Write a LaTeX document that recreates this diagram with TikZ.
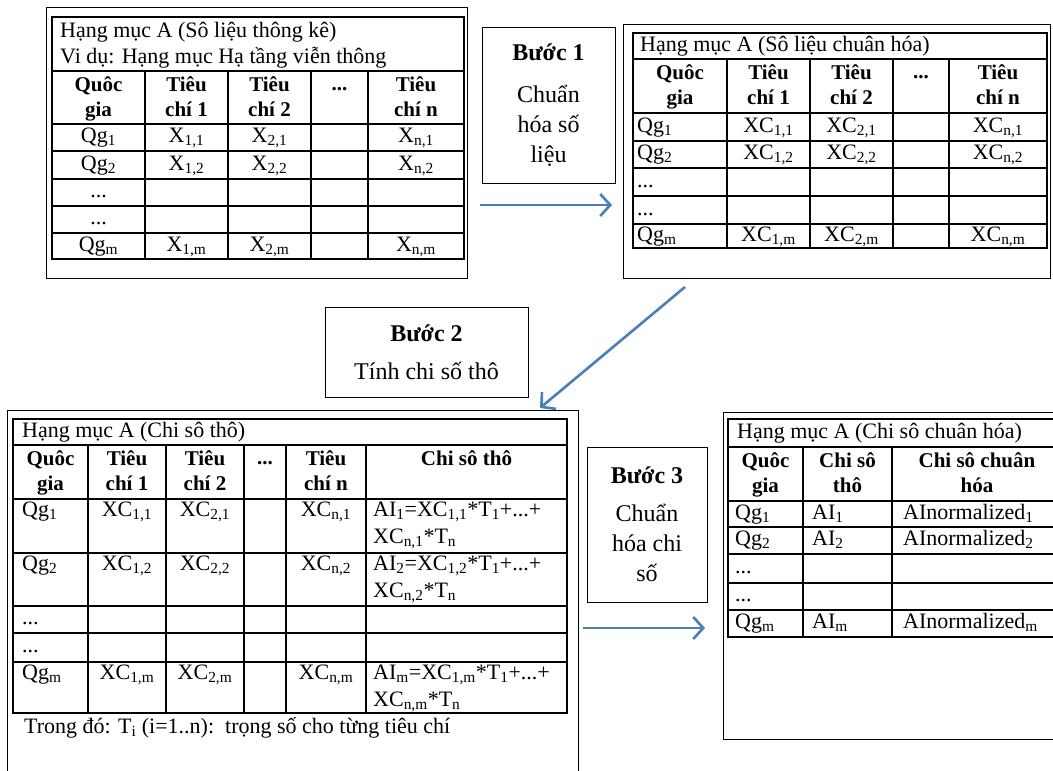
\documentclass[tikz,border=0pt]{standalone}
\usepackage{fontspec}
\setmainfont{Liberation Serif}
\usetikzlibrary{arrows.meta}
\definecolor{flowblue}{RGB}{74,126,187}
\newcommand{\ix}[1]{\textsubscript{#1}}
\newcommand{\threedots}{\vphantom{Q}...}

\begin{document}
\begin{tikzpicture}[
    x=1pt,y=-1pt,font=\fontsize{22}{26}\selectfont,
    frame/.style={line width=1pt},
    rule/.style={line width=1.6pt},
    title/.style={anchor=west,inner sep=0pt,text height=15pt,text depth=5pt},
    cell/.style={inner sep=0pt,text height=15pt,text depth=5pt},
    lcell/.style={cell,anchor=west},
    head/.style={anchor=north,align=center,inner sep=0pt,
        font=\fontsize{21}{25}\selectfont\bfseries},
    formula/.style={anchor=north west,align=left,inner sep=0pt,
        font=\fontsize{22}{27}\selectfont},
    stepbox/.style={draw,line width=1pt,align=center,inner sep=0pt,
        font=\fontsize{24}{30}\selectfont},
    flow/.style={draw=flowblue,line width=2.6pt,
        -{Straight Barb[length=10pt,width=22pt]}}
]
    \useasboundingbox (0,0) rectangle (1053,771);
    \clip (0,0) rectangle (1053,771);

    % Table A: raw statistics
    \draw[frame] (46,7) rectangle (467,278);
    \draw[rule] (52,17) rectangle (464,259);
    \foreach \y in {71,124,151,179,206,233} \draw[rule] (52,\y) -- (464,\y);
    \foreach \x in {145,228,311,368} \draw[rule] (\x,71) -- (\x,259);
    \node[title] (ta-title) at (60,32) {Hạng mục A (Sô liệu thông kê)};
    \node[title] (ta-example) at (60,58) {Vi dụ: Hạng mục Hạ tầng viễn thông};
    \foreach \x/\name/\txt in {98.5/q/Quôc\\gia,186.5/a/Tiêu\\chí 1,
        269.5/b/Tiêu\\chí 2,339.5/d/\threedots,416/n/Tiêu\\chí n}
        \node[head] (ta-h\name) at (\x,76) {\txt};
    \foreach \y/\r in {137.5/1,165/2,246/m} {
        \node[cell] (ta-q\r) at (98.5,\y) {Qg\ix{\r}};
        \node[cell] (ta-a\r) at (186.5,\y) {X\ix{1,\r}};
        \node[cell] (ta-b\r) at (269.5,\y) {X\ix{2,\r}};
        \node[cell] (ta-n\r) at (416,\y) {X\ix{n,\r}};
    }
    \node[cell] (ta-dots1) at (98.5,192.5) {...};
    \node[cell] (ta-dots2) at (98.5,219.5) {...};

    % Step 1
    \node[stepbox,minimum width=133pt,minimum height=156pt] (step1) at (548.5,105)
        {\textbf{Bước 1}\\[12pt]Chuẩn\\hóa số\\liệu};
    \coordinate (s1-from) at (480,205);
    \coordinate (s1-to) at (612,205);
    \draw[flow] (s1-from) -- (s1-to);

    % Table B: normalised data
    \draw[frame] (623,24) rectangle (1050,278);
    \draw[rule] (633,33) rectangle (1047,248);
    \foreach \y in {59,113,141,168,196,224} \draw[rule] (633,\y) -- (1047,\y);
    \foreach \x in {727,810,893,949} \draw[rule] (\x,59) -- (\x,248);
    \node[title] (tb-title) at (640,46) {Hạng mục A (Sô liệu chuân hóa)};
    \foreach \x/\name/\txt in {680/q/Quôc\\gia,768.5/a/Tiêu\\chí 1,
        851.5/b/Tiêu\\chí 2,921/d/\threedots,998/n/Tiêu\\chí n}
        \node[head] (tb-h\name) at (\x,64) {\txt};
    \foreach \y/\r in {127/1,154.5/2,236/m} {
        \node[lcell] (tb-q\r) at (637,\y) {Qg\ix{\r}};
        \node[cell] (tb-a\r) at (768.5,\y) {XC\ix{1,\r}};
        \node[cell] (tb-b\r) at (851.5,\y) {XC\ix{2,\r}};
        \node[cell] (tb-n\r) at (998,\y) {XC\ix{n,\r}};
    }
    \node[lcell] (tb-dots1) at (637,182) {...};
    \node[lcell] (tb-dots2) at (637,210) {...};

    % Step 2
    \node[stepbox,minimum width=203pt,minimum height=90pt] (step2) at (426.5,352)
        {\textbf{Bước 2}\\[8pt]Tính chi số thô};
    \coordinate (s2-from) at (685,287);
    \coordinate (s2-to) at (540,408);
    \draw[flow] (s2-from) -- (s2-to);

    % Table C: raw index
    \draw[frame] (7,410) rectangle (578,800);
    \draw[rule] (13,419) rectangle (567,713);
    \foreach \y in {445,499,553,606,633,662} \draw[rule] (13,\y) -- (567,\y);
    \foreach \x in {88,166,244,286,366} \draw[rule] (\x,445) -- (\x,713);
    \node[title] (tc-title) at (22,432) {Hạng mục A (Chi sô thô)};
    \foreach \x/\name/\txt in {50.5/q/Quôc\\gia,127/a/Tiêu\\chí 1,
        205/b/Tiêu\\chí 2,265/d/\threedots,326/n/Tiêu\\chí n,466.5/i/Chi sô thô}
        \node[head] (tc-h\name) at (\x,450) {\txt};
    \foreach \y/\r in {501/1,555/2,664/m} {
        \node[cell,anchor=north west] (tc-q\r) at (22,\y) {Qg\ix{\r}};
        \node[cell,anchor=north] (tc-a\r) at (127,\y) {XC\ix{1,\r}};
        \node[cell,anchor=north] (tc-b\r) at (205,\y) {XC\ix{2,\r}};
        \node[cell,anchor=north] (tc-n\r) at (326,\y) {XC\ix{n,\r}};
        \node[formula] (tc-i\r) at (373,\y+1)
            {AI\ix{\r}=XC\ix{1,\r}*T\ix{1}+...+\\XC\ix{n,\r}*T\ix{n}};
    }
    \node[lcell] (tc-dots1) at (22,619.5) {...};
    \node[lcell] (tc-dots2) at (22,647.5) {...};
    \node[title] (tc-note) at (24,728)
        {Trong đó: T\ix{i} (i=1..n):\ \ trọng số cho từng tiêu chí};

    % Step 3
    \node[stepbox,minimum width=120pt,minimum height=155pt] (step3) at (647,524.5)
        {\textbf{Bước 3}\\[8pt]Chuẩn\\hóa chi\\số};
    \coordinate (s3-from) at (583,628);
    \coordinate (s3-to) at (705,628);
    \draw[flow] (s3-from) -- (s3-to);

    % Table D: normalised index
    \draw[frame] (723,412) rectangle (1068,739);
    \draw[rule] (728,419) rectangle (1062,637);
    \foreach \y in {447,501,527,554,583,610} \draw[rule] (728,\y) -- (1062,\y);
    \foreach \x in {803,892} \draw[rule] (\x,447) -- (\x,637);
    \node[title] (td-title) at (737,433) {Hạng mục A (Chi sô chuân hóa)};
    \foreach \x/\name/\txt in {765.5/q/Quôc\\gia,847.5/i/Chi sô\\thô,
        977/z/Chi sô chuân\\hóa}
        \node[head] (td-h\name) at (\x,452) {\txt};
    \foreach \y/\r in {514/1,540.5/2,623.5/m} {
        \node[lcell] (td-q\r) at (735,\y) {Qg\ix{\r}};
        \node[lcell] (td-i\r) at (812,\y) {AI\ix{\r}};
        \node[lcell] (td-z\r) at (903,\y) {AInormalized\ix{\r}};
    }
    \node[lcell] (td-dots1) at (735,568.5) {...};
    \node[lcell] (td-dots2) at (735,596.5) {...};
\end{tikzpicture}
\end{document}
